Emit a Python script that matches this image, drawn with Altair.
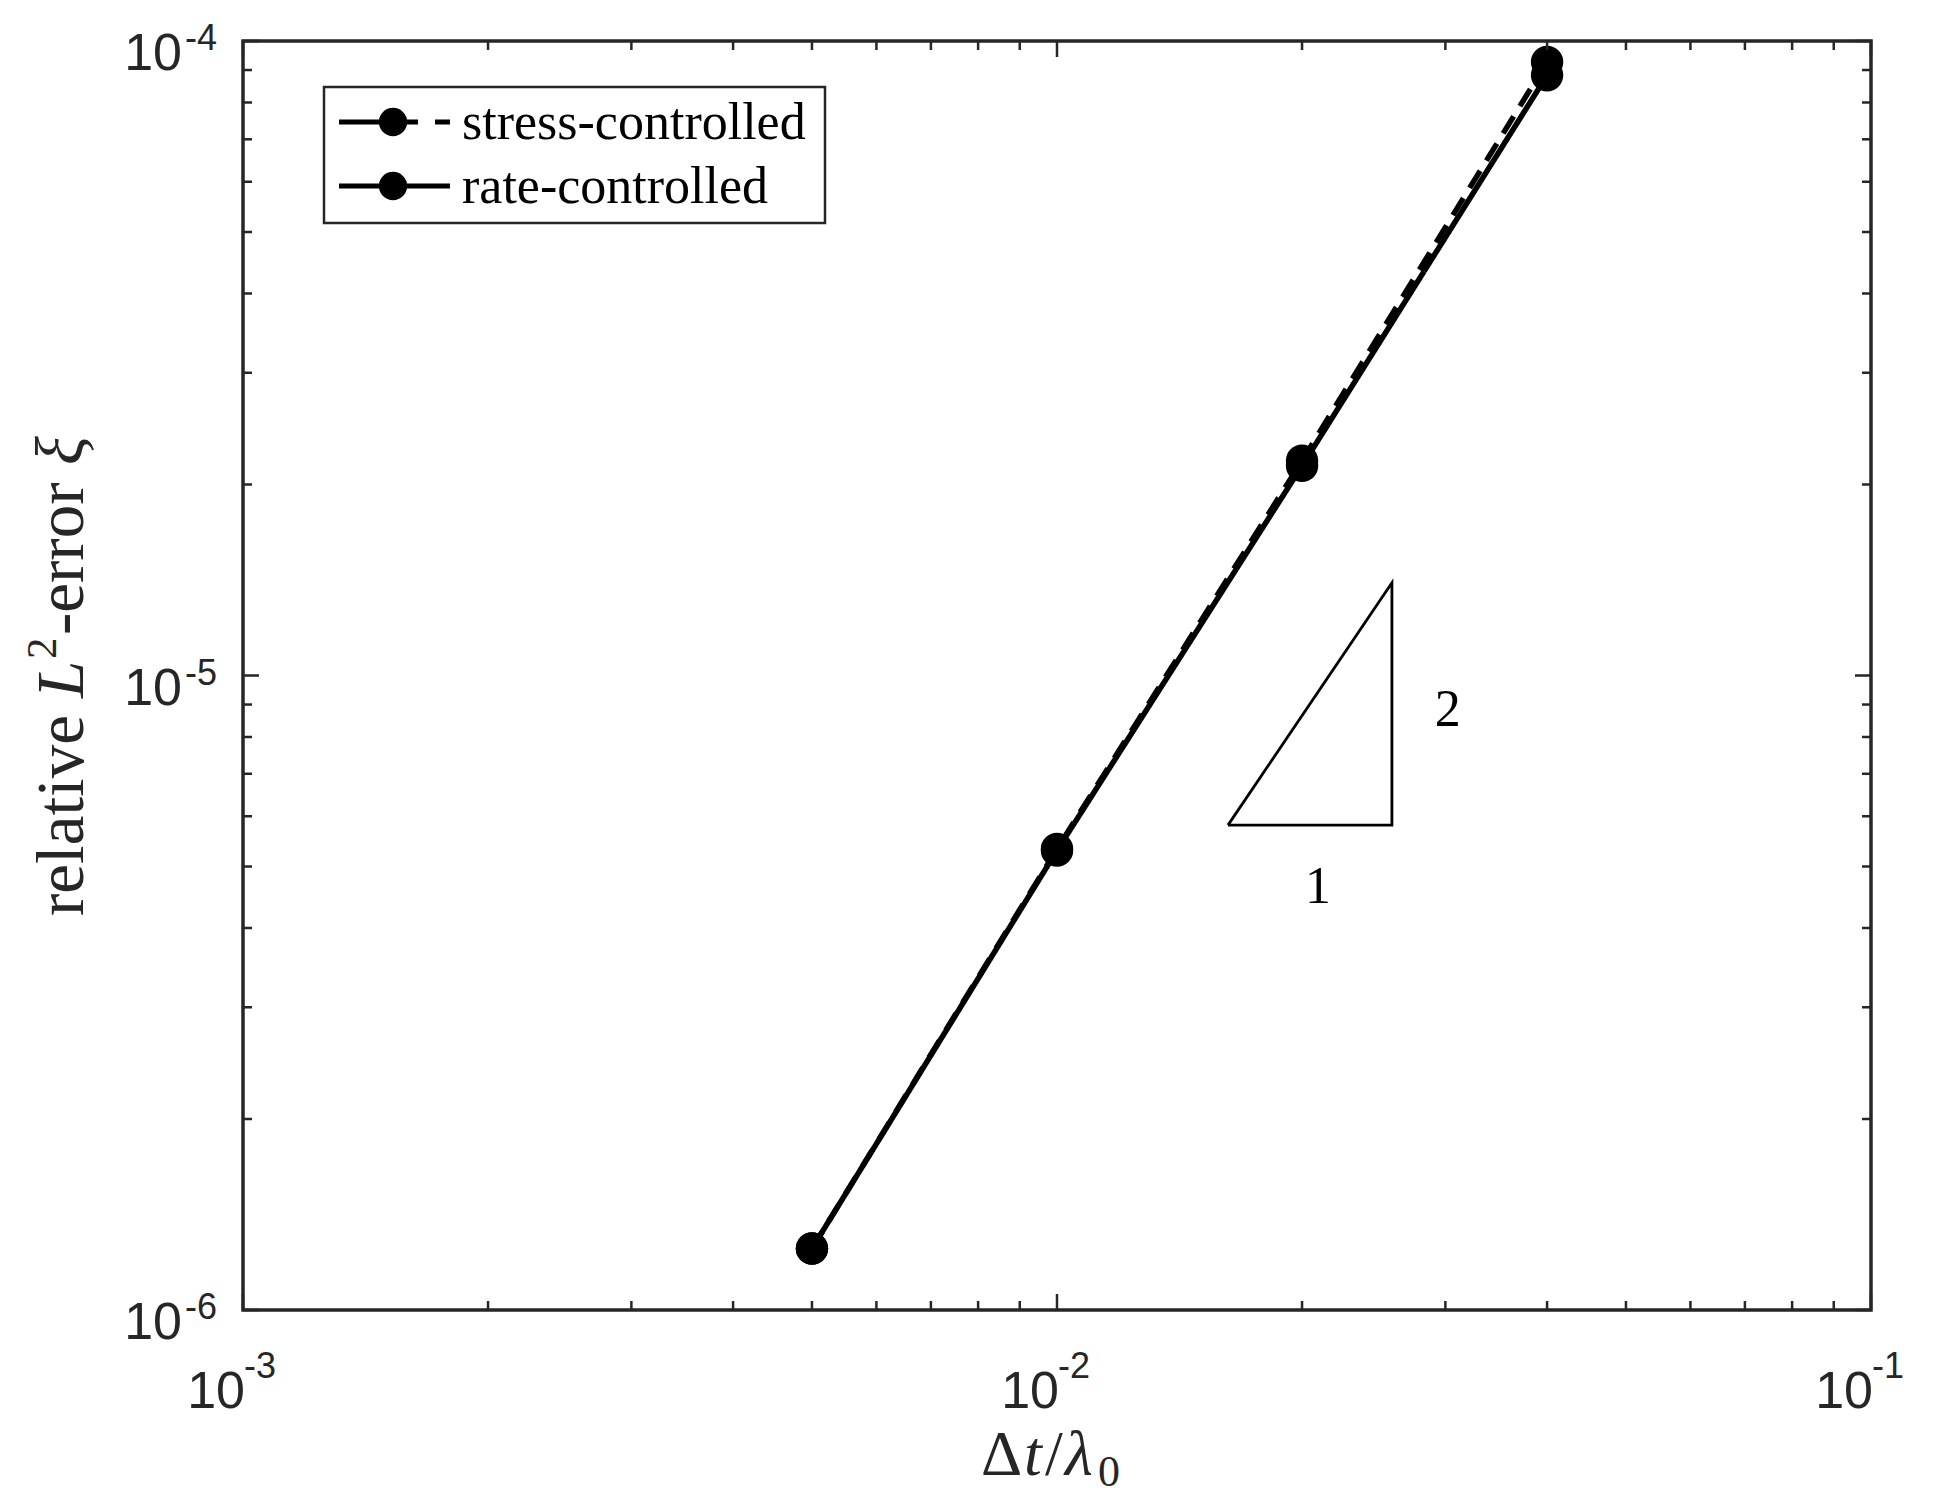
import altair as alt
import pandas as pd

# ---------------- data ----------------
dt = [0.005, 0.01, 0.02, 0.04]
err_stress = [1.25e-6, 5.33e-6, 2.18e-5, 9.27e-5]
err_rate = [1.25e-6, 5.30e-6, 2.14e-5, 8.83e-5]
series_names = ["stress-controlled", "rate-controlled"]

tri_x = [0.01622, 0.02579, 0.02579, 0.01622]
tri_y = [5.81e-6, 5.81e-6, 1.40e-5, 5.81e-6]
slope_text = ["1", "2"]
slope_x = [0.02093, 0.0302]
slope_y = [4.64e-6, 8.82e-6]

x_major = [1e-3, 1e-2, 1e-1]
x_exp = ["-3", "-2", "-1"]
x_minor = [2e-3, 3e-3, 4e-3, 5e-3, 6e-3, 7e-3, 8e-3, 9e-3,
           2e-2, 3e-2, 4e-2, 5e-2, 6e-2, 7e-2, 8e-2, 9e-2]
y_major = [1e-6, 1e-5, 1e-4]
y_exp = ["-6", "-5", "-4"]
y_minor = [2e-6, 3e-6, 4e-6, 5e-6, 6e-6, 7e-6, 8e-6, 9e-6,
           2e-5, 3e-5, 4e-5, 5e-5, 6e-5, 7e-5, 8e-5, 9e-5]

W, H = 1628, 1269
INK = "#262626"
SERIF = "Liberation Serif"
SANS = "Liberation Sans Narrow, Liberation Sans, Arial"

xs = alt.Scale(type="log", domain=[1e-3, 1e-1], nice=False)
ys = alt.Scale(type="log", domain=[1e-6, 1e-4], nice=False)

df = pd.DataFrame({
    "x": dt * 2,
    "y": err_stress + err_rate,
    "series": [series_names[0]] * len(dt) + [series_names[1]] * len(dt),
    "i": list(range(len(dt))) * 2,
})

X = alt.X("x:Q", scale=xs, axis=None)
Y = alt.Y("y:Q", scale=ys, axis=None)

lines = alt.Chart(df).mark_line(color="black", strokeWidth=5.5).encode(
    x=alt.X("x:Q", scale=xs, axis=alt.Axis(labels=False, ticks=False, domain=False, grid=False, title=None)),
    y=alt.Y("y:Q", scale=ys, axis=alt.Axis(labels=False, ticks=False, domain=False, grid=False, title=None)),
    detail="series:N",
    order="i:Q",
    strokeDash=alt.StrokeDash("series:N", scale=alt.Scale(domain=series_names, range=[[20, 12], [1, 0]]), legend=None),
)

points = alt.Chart(df).mark_circle(size=1050, color="black", opacity=1).encode(x=X, y=Y)

tri_df = pd.DataFrame({"x": tri_x, "y": tri_y, "i": list(range(len(tri_x)))})
triangle = alt.Chart(tri_df).mark_line(color="black", strokeWidth=2.8).encode(x=X, y=Y, order="i:Q")

slope_df = pd.DataFrame({"x": slope_x, "y": slope_y, "t": slope_text})
slope_lbl = alt.Chart(slope_df).mark_text(font=SERIF, fontSize=52, color="black",
                                          align="center", baseline="middle").encode(x=X, y=Y, text="t:N")

# ---------------- inward ticks ----------------
def xticks(vals, ln):
    d = pd.DataFrame({"x": vals})
    b = alt.Chart(d).mark_rule(color=INK, strokeWidth=2.5).encode(x=X, y=alt.value(H), y2=alt.value(H - ln))
    t = alt.Chart(d).mark_rule(color=INK, strokeWidth=2.5).encode(x=X, y=alt.value(0), y2=alt.value(ln))
    return [b, t]

def yticks(vals, ln):
    d = pd.DataFrame({"y": vals})
    l = alt.Chart(d).mark_rule(color=INK, strokeWidth=2.5).encode(y=Y, x=alt.value(0), x2=alt.value(ln))
    r = alt.Chart(d).mark_rule(color=INK, strokeWidth=2.5).encode(y=Y, x=alt.value(W), x2=alt.value(W - ln))
    return [l, r]

ticks = xticks(x_major, 16) + xticks(x_minor, 9) + yticks(y_major, 16) + yticks(y_minor, 9)

# ---------------- tick labels ----------------
xl = pd.DataFrame({"x": x_major, "b": ["10"] * 3, "e": x_exp})
x_base = alt.Chart(xl).mark_text(font=SANS, fontSize=52, color=INK, align="right", baseline="alphabetic", dx=2).encode(
    x=X, y=alt.value(H + 98), text="b:N")
x_sup = alt.Chart(xl).mark_text(font=SANS, fontSize=36, color=INK, align="left", baseline="alphabetic", dx=1).encode(
    x=X, y=alt.value(H + 68), text="e:N")

yl = pd.DataFrame({"y": y_major, "b": ["10"] * 3, "e": y_exp})
y_base = alt.Chart(yl).mark_text(font=SANS, fontSize=52, color=INK, align="right", baseline="alphabetic", dy=29).encode(
    y=Y, x=alt.value(-61), text="b:N")
y_sup = alt.Chart(yl).mark_text(font=SANS, fontSize=36, color=INK, align="right", baseline="alphabetic", dy=9).encode(
    y=Y, x=alt.value(-26), text="e:N")

# ---------------- axis titles (rich text pieces) ----------------
def piece(txt, x, y, size=64, style="normal", angle=0, color=INK):
    d = pd.DataFrame({"t": [txt]})
    return alt.Chart(d).mark_text(font=SERIF, fontSize=size, fontStyle=style, color=color,
                                  align="left", baseline="alphabetic", angle=angle).encode(
        x=alt.value(x), y=alt.value(y), text="t:N")

xb = H + 165
xtitle = [
    piece("Δ", 738, xb),
    piece("t", 781, xb, style="italic"),
    piece("/", 802, xb),
    piece("λ", 822, xb, style="italic"),
    piece("0", 855, xb + 11, size=44),
]

yx = -160
ytitle = [
    piece("relative", yx, 875, size=67, angle=270),
    piece("L", yx, 657, size=67, style="italic", angle=270),
    piece("2", yx - 27, 618, size=43, angle=270),
    piece("-error", yx, 594, size=67, angle=270),
    piece("ξ", yx, 424, size=67, style="italic", angle=270),
]

# ---------------- legend (drawn in pixel space, top-left inside the axes) ----------------
LX0, LX1, LY0, LY1 = 81, 582, 46, 182
ROW = [81, 145]
box = alt.Chart(pd.DataFrame({"k": [0]})).mark_rect(fill="white", stroke=INK, strokeWidth=2.5).encode(
    x=alt.value(LX0), x2=alt.value(LX1), y=alt.value(LY0), y2=alt.value(LY1))

def seg(x0, x1, y):
    return alt.Chart(pd.DataFrame({"k": [0]})).mark_rule(color="black", strokeWidth=5).encode(
        x=alt.value(x0), x2=alt.value(x1), y=alt.value(y))

legend_marks = [box]
# stress-controlled: dashed
legend_marks += [seg(96, 140, ROW[0]), seg(160, 175, ROW[0]), seg(192, 207, ROW[0])]
# rate-controlled: solid
legend_marks += [seg(96, 207, ROW[1])]
for r, name in zip(ROW, series_names):
    legend_marks.append(
        alt.Chart(pd.DataFrame({"k": [0]})).mark_point(shape="circle", filled=True, size=800,
                                                       color="black", opacity=1).encode(
            x=alt.value(150), y=alt.value(r)))
    legend_marks.append(
        alt.Chart(pd.DataFrame({"t": [name]})).mark_text(font=SERIF, fontSize=52, color="black",
                                                        align="left", baseline="middle").encode(
            x=alt.value(219), y=alt.value(r + 1), text="t:N"))

chart = alt.layer(
    triangle, lines, points, slope_lbl, *ticks, x_base, x_sup, y_base, y_sup,
    *xtitle, *ytitle, *legend_marks
).properties(
    width=W, height=H,
    autosize=alt.AutoSizeParams(type="none"),
    padding={"left": 235, "top": 33, "right": 50, "bottom": 192},
    background="white",
).configure_view(
    stroke=INK, strokeWidth=3.5
)

chart.save("out.html", embed_options={"renderer": "svg", "actions": False})
